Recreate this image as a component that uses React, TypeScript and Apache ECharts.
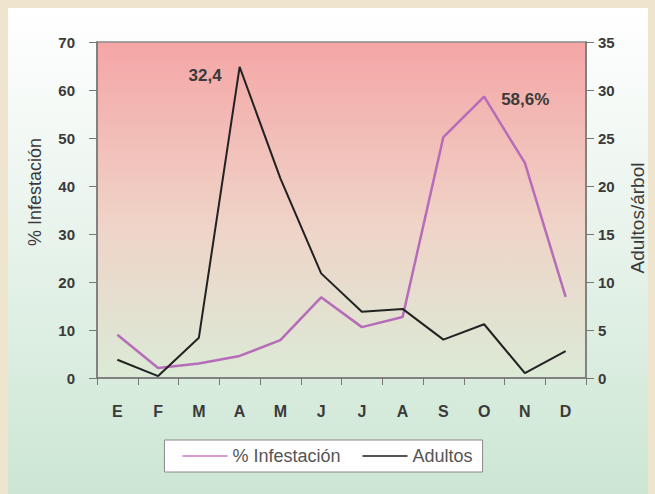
import React, { useEffect, useRef } from "react";
import * as echarts from "echarts";

const months = ["E", "F", "M", "A", "M", "J", "J", "A", "S", "O", "N", "D"];
const infestacion = [9, 2.1, 3, 4.6, 7.9, 16.8, 10.6, 12.7, 50.2, 58.6, 44.8, 16.9];
const adultos = [1.9, 0.2, 4.2, 32.4, 20.8, 10.9, 6.9, 7.2, 4.0, 5.6, 0.5, 2.8];
const leftTicks = { min: 0, max: 70, interval: 10 };
const rightTicks = { min: 0, max: 35, interval: 5 };
const leftTitle = "% Infestación";
const rightTitle = "Adultos/árbol";

export default function App() {
  const ref = useRef<HTMLDivElement>(null);
  useEffect(() => {
    document.body.style.margin = "0";
    const chart = echarts.init(ref.current!, undefined, { renderer: "svg" });
    const font = "Liberation Sans, Arial, sans-serif";
    const tickLabel = { color: "#3a3a3a", fontSize: 15, fontWeight: "bold" as const, fontFamily: font };
    const annot = { color: "#3a3a3a", fontSize: 17, fontWeight: "bold" as const, fontFamily: font };
    chart.setOption({
      animation: false,
      backgroundColor: "#efe5cf",
      graphic: [
        {
          type: "rect",
          shape: { x: 8, y: 8, width: 640, height: 486 },
          style: {
            fill: new echarts.graphic.LinearGradient(0, 0, 0, 1, [
              { offset: 0, color: "#ffffff" },
              { offset: 0.35, color: "#eef6f1" },
              { offset: 1, color: "#cce6d3" },
            ]),
          },
          z: -10,
        },
        {
          type: "text",
          x: 35,
          y: 192,
          rotation: Math.PI / 2,
          style: {
            text: leftTitle,
            align: "center",
            verticalAlign: "middle",
            fill: "#3a3a3a",
            font: "18px Liberation Sans, Arial, sans-serif",
          },
        },
        {
          type: "text",
          x: 637,
          y: 218,
          rotation: Math.PI / 2,
          style: {
            text: rightTitle,
            align: "center",
            verticalAlign: "middle",
            fill: "#3a3a3a",
            font: "19px Liberation Sans, Arial, sans-serif",
          },
        },
      ],
      grid: {
        left: 97,
        right: 69,
        top: 42,
        bottom: 116,
        show: true,
        borderWidth: 1.5,
        borderColor: "#8a8a8a",
        backgroundColor: new echarts.graphic.LinearGradient(0, 0, 0, 1, [
          { offset: 0, color: "#f5a6a6" },
          { offset: 0.55, color: "#efd4c8" },
          { offset: 1, color: "#dbead6" },
        ]),
      },
      legend: {
        top: 440,
        left: "center",
        itemWidth: 45,
        itemHeight: 2,
        itemGap: 22,
        padding: [7, 10, 7, 18],
        backgroundColor: "#ffffff",
        borderColor: "#8a8a8a",
        borderWidth: 1,
        borderRadius: 0,
        icon: "rect",
        textStyle: { color: "#555", fontSize: 18, fontFamily: font },
        data: ["% Infestación", "Adultos"],
      },
      xAxis: {
        type: "category",
        data: months,
        boundaryGap: true,
        axisLine: { lineStyle: { color: "#777", width: 1.5 } },
        axisTick: { show: true, inside: false, length: 7, lineStyle: { color: "#777" } },
        axisLabel: { ...tickLabel, fontSize: 16, margin: 25 },
      },
      yAxis: [
        {
          type: "value",
          ...leftTicks,
          axisLine: { show: true, lineStyle: { color: "#777", width: 1.5 } },
          axisTick: { show: true, length: 8, lineStyle: { color: "#777" } },
          axisLabel: { ...tickLabel, margin: 22 },
          splitLine: { show: false },
        },
        {
          type: "value",
          ...rightTicks,
          axisLine: { show: true, lineStyle: { color: "#777", width: 1.5 } },
          axisTick: { show: true, length: 8, lineStyle: { color: "#777" } },
          axisLabel: { ...tickLabel, margin: 12 },
          splitLine: { show: false },
        },
      ],
      series: [
        {
          name: "% Infestación",
          type: "line",
          yAxisIndex: 0,
          data: infestacion.map((v, i) =>
            i === 9
              ? {
                  value: v,
                  label: {
                    show: true,
                    position: "right",
                    distance: 17,
                    offset: [0, 3],
                    formatter: "58,6%",
                    ...annot,
                  },
                }
              : v
          ),
          symbol: "circle",
          symbolSize: 0,
          showSymbol: true,
          lineStyle: { color: "#b66cb8", width: 2.5 },
          itemStyle: { color: "#d69ad6" },
          z: 3,
        },
        {
          name: "Adultos",
          type: "line",
          yAxisIndex: 1,
          data: adultos.map((v, i) =>
            i === 3
              ? {
                  value: v,
                  label: {
                    show: true,
                    position: "left",
                    distance: 18,
                    offset: [0, 9],
                    formatter: "32,4",
                    ...annot,
                  },
                }
              : v
          ),
          symbol: "circle",
          symbolSize: 0,
          showSymbol: true,
          lineStyle: { color: "#222", width: 2 },
          itemStyle: { color: "#555" },
          z: 4,
        },
      ],
    });
    return () => chart.dispose();
  }, []);
  return <div ref={ref} style={{ width: 655, height: 494 }} />;
}
